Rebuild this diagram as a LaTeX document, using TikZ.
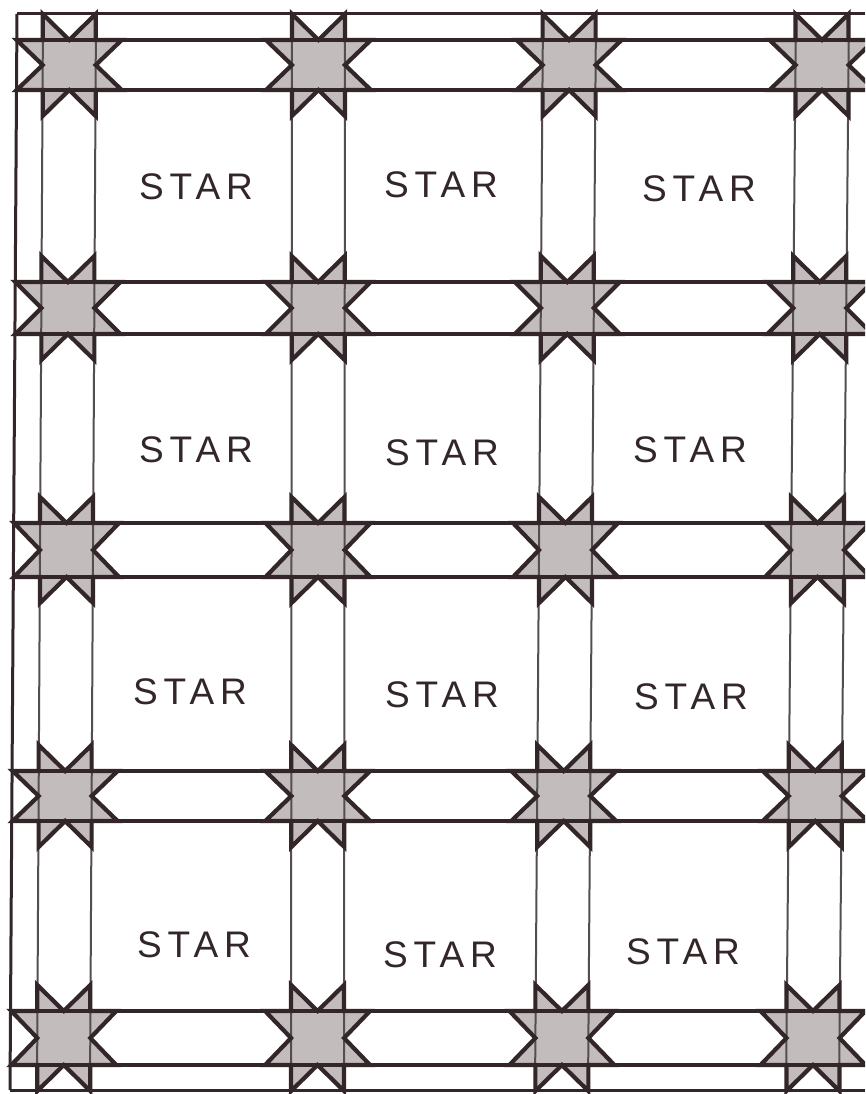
\documentclass[tikz,border=0pt]{standalone}
\usepackage{fontspec}
\setmainfont{Liberation Sans}
\definecolor{pencil}{RGB}{50,38,40}
\definecolor{shade}{RGB}{194,188,188}
\definecolor{thinline}{RGB}{85,78,80}
\newcommand\dd{26}
\newcommand\qstarpath[4]{%
 (#1,#2-\dd) -- ({(#1+#3)/2},#2) -- (#3,#2-\dd) -- (#3,#2) -- (#3+\dd,#2) -- (#3,{(#2+#4)/2}) -- (#3+\dd,#4) -- (#3,#4) -- (#3,#4+\dd) -- ({(#1+#3)/2},#4) -- (#1,#4+\dd) -- (#1,#4) -- (#1-\dd,#4) -- (#1,{(#2+#4)/2}) -- (#1-\dd,#2) -- (#1,#2) -- cycle}
\begin{document}
\begin{tikzpicture}[x=1pt,y=-1pt,
  hline/.style={draw=pencil,line width=3.2pt},
  vline/.style={draw=thinline,line width=2pt},
  borderline/.style={draw=pencil,line width=3pt},
  starfill/.style={fill=shade},
  starline/.style={draw=pencil,line width=4.2pt,line join=miter},
  starlabel/.style={font=\fontsize{37}{37}\selectfont\addfontfeature{LetterSpace=16},text=pencil,inner sep=0pt}]
\useasboundingbox (0,0) rectangle (865,1094);
\fill[white] (0,0) rectangle (865,1094);
\clip (0,0) rectangle (865,1094);
% star fills
\foreach \T/\B in {40/90,282/334,523/577,771/821,1011/1065}{
  \foreach \ct/\cb in {43/37,292/291,543/535,796/786}{
    \pgfmathsetmacro\L{\ct+(\cb-\ct)*((\T+\B)/2-14)/1076}
    \pgfmathsetmacro\R{\L+53}
    \path[starfill] \qstarpath{\L}{\T}{\R}{\B};
  }}
% grid lines
\foreach \ct/\cb in {43/37,292/291,543/535,796/786}{
  \draw[vline] (\ct,14) -- (\cb,1090);
  \pgfmathsetmacro\ctr{\ct+53}
  \pgfmathsetmacro\cbr{\cb+53}
  \draw[vline] (\ctr,14) -- (\cbr,1090);
}
\foreach \T/\B in {40/90,282/334,523/577,771/821,1011/1065}{
  \draw[hline] (16,\T) -- (865,\T);
  \draw[hline] (16,\B) -- (865,\B);
}
\draw[borderline] (17,14) -- (865,14);
\draw[borderline] (10,1090) -- (865,1090);
\draw[borderline] (17,14) -- (10,1090);
% star outlines
\foreach \T/\B in {40/90,282/334,523/577,771/821,1011/1065}{
  \foreach \ct/\cb in {43/37,292/291,543/535,796/786}{
    \pgfmathsetmacro\L{\ct+(\cb-\ct)*((\T+\B)/2-14)/1076}
    \pgfmathsetmacro\R{\L+53}
    \path[starline] \qstarpath{\L}{\T}{\R}{\B};
  }}
% labels
\node[starlabel] (s11) at (196,187) {STAR};
\node[starlabel] (s12) at (441,185) {STAR};
\node[starlabel] (s13) at (699,189) {STAR};
\node[starlabel] (s21) at (196,450) {STAR};
\node[starlabel] (s22) at (442,453) {STAR};
\node[starlabel] (s23) at (690,450) {STAR};
\node[starlabel] (s31) at (190,692) {STAR};
\node[starlabel] (s32) at (442,695) {STAR};
\node[starlabel] (s33) at (691,697) {STAR};
\node[starlabel] (s41) at (194,945) {STAR};
\node[starlabel] (s42) at (440,955) {STAR};
\node[starlabel] (s43) at (683,952) {STAR};
\end{tikzpicture}
\end{document}
